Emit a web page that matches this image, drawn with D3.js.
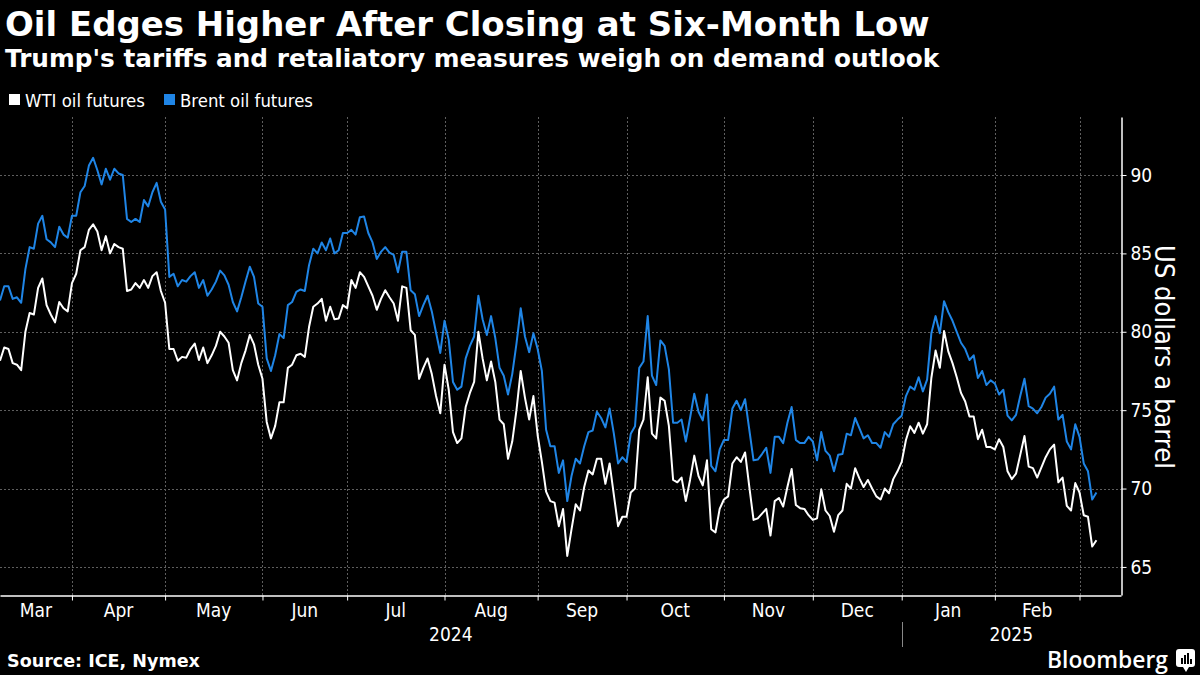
<!DOCTYPE html>
<html><head><meta charset="utf-8">
<script src="https://cdn.jsdelivr.net/npm/d3@7"></script>
<style>body{margin:0;background:#000;} svg{display:block;background:#000}</style>
</head><body>
<svg id="c" width="1200" height="675"></svg>
<script>
// ---- data (one value per weekday, Mar 2024 – Mar 2025) ----
const wti = [
78.15,79.0,78.9,78.0,77.9,77.55,80.0,81.2,81.1,82.8,83.4,81.7,81.1,80.6,81.9,81.5,81.3,83.1,83.7,85.2,85.4,86.5,86.85,86.4,85.2,86.1,85.0,85.6,85.4,85.3,82.6,82.7,83.1,82.8,83.3,82.8,83.55,83.8,82.6,81.85,78.9,78.9,78.15,
78.4,78.35,78.9,79.25,78.2,79.0,78.0,78.5,79.1,80.0,79.7,79.3,77.55,76.9,78.0,78.8,79.8,79.2,77.9,77.0,74.25,73.2,74.0,75.5,75.5,77.7,77.9,78.5,78.6,78.4,80.3,81.6,81.8,82.1,80.7,81.6,80.8,80.85,81.7,81.5,83.3,82.8,83.8,83.5,82.9,
82.3,81.4,82.1,82.65,82.2,81.8,80.7,82.9,82.8,80.1,79.8,77.0,77.7,78.3,77.3,75.9,74.8,77.9,76.3,73.6,72.9,73.2,75.2,76.1,76.8,80.0,78.3,76.9,78.1,76.8,74.4,74.1,71.9,73.0,75.0,77.5,75.8,74.4,75.9,73.4,71.7,
69.8,69.2,69.1,67.6,68.7,65.7,67.4,69.0,68.6,70.1,71.15,70.9,71.9,71.9,70.3,71.6,69.6,67.6,68.2,68.2,69.75,70.0,73.75,74.4,77.1,73.5,73.2,75.8,75.6,74.0,70.55,70.4,70.7,69.2,70.55,72.1,70.8,70.2,71.8,67.4,67.2,68.7,69.3,69.5,71.6,
72.0,71.7,72.3,70.1,68.0,68.1,68.4,68.7,67.0,69.2,69.4,68.85,70.1,71.25,68.95,68.75,68.7,68.3,68.0,68.1,69.95,68.6,68.25,67.25,68.3,68.6,70.3,70.0,71.3,70.65,70.1,70.55,70.0,69.5,69.3,70.0,69.7,70.6,71.1,71.7,73.1,73.97,73.55,74.2,
73.5,74.1,77.05,78.8,77.7,80.05,78.75,78.0,77.1,76.1,75.55,74.6,74.6,73.15,73.75,72.65,72.65,72.5,73.15,72.65,71.1,70.6,70.95,72.15,73.35,71.4,71.3,70.7,71.35,72.0,72.5,72.8,70.4,70.7,68.9,68.6,70.35,69.75,68.3,68.2,66.3,66.7
];
const brent = [
82.0,82.9,82.9,82.1,82.2,81.85,84.0,85.4,85.3,86.9,87.4,85.9,85.7,85.4,86.7,86.2,86.0,87.4,87.4,88.9,89.3,90.6,91.1,90.3,89.4,90.4,89.7,90.4,90.1,90.0,87.2,87.0,87.2,87.0,88.4,88.0,88.9,89.5,88.3,87.8,83.5,83.7,82.9,
83.3,83.2,83.55,83.8,82.8,83.3,82.3,82.7,83.2,83.9,83.6,83.0,81.9,81.3,82.2,83.2,84.15,83.5,81.8,81.6,78.3,77.5,78.5,79.85,79.6,81.7,81.9,82.55,82.7,82.6,84.25,85.3,85.0,85.7,85.2,85.95,85.0,85.2,86.3,86.3,86.5,86.2,87.3,87.35,86.3,
85.7,84.65,85.1,85.4,85.05,84.9,83.8,85.1,85.1,82.65,82.4,81.0,81.7,82.3,81.3,79.95,78.65,80.7,79.5,76.8,76.3,76.5,78.3,79.1,79.7,82.3,80.8,79.8,81.0,79.6,77.7,77.2,76.0,77.3,79.25,81.5,79.7,78.7,79.9,78.9,77.5,
73.75,72.7,72.7,71.0,71.8,69.2,70.8,71.9,71.6,72.7,73.6,73.7,74.9,74.5,73.9,75.1,73.5,71.6,72.0,71.7,73.5,73.97,77.7,78.1,81.0,77.2,76.6,79.45,79.1,77.6,74.2,74.2,74.4,73.0,74.5,76.05,74.9,74.35,76.0,71.45,71.1,72.5,73.1,73.1,75.1,
75.6,75.0,75.7,73.75,71.8,71.85,72.2,72.6,71.0,73.3,73.3,72.9,74.2,75.2,73.1,72.9,72.9,73.3,73.0,71.8,73.6,72.4,72.1,71.1,72.15,72.2,73.5,73.4,74.5,73.85,73.2,73.4,72.9,72.9,72.6,73.6,73.3,74.1,74.4,74.65,75.9,76.5,76.3,77.1,
76.2,76.95,79.9,81.0,79.9,81.95,81.25,80.7,80.0,79.3,78.9,78.2,78.5,77.05,77.5,76.6,76.9,76.7,76.0,76.3,74.65,74.35,74.7,75.9,77.0,75.25,75.1,74.8,75.2,75.8,76.05,76.5,74.4,74.7,73.0,72.5,74.1,73.3,71.6,71.1,69.3,69.75
];
const seriesNames = ["WTI oil futures", "Brent oil futures"];
const seriesColors = ["#ffffff", "#1f85e6"];
const monthLabels = ["Mar","Apr","May","Jun","Jul","Aug","Sep","Oct","Nov","Dec","Jan","Feb"];
const monthStarts = [0,17,39,62,82,105,127,148,171,192,213,235,255]; // weekday index of each month start
const yearLabels = ["2024","2025"];
const yearStarts = [0,213];
const yTicks = [65,70,75,80,85,90];

// ---- layout ----
const svg = d3.select("#c");
const plot = {left:0, right:1121, top:117, bottom:595};
const xEnd = 264.8; // index at right axis
const x = d3.scaleLinear().domain([0, xEnd]).range([plot.left, plot.right]);
const y = d3.scaleLinear().domain([63.21, 93.7]).range([plot.bottom, plot.top]);

const narrow = "'Liberation Sans Narrow','Arial Narrow','DejaVu Sans Condensed',sans-serif";
const bold = "'DejaVu Sans',sans-serif";

function fit(sel, w){
  const n = sel.node(); const L = n.getComputedTextLength();
  const fs = parseFloat(sel.attr("font-size"));
  sel.attr("font-size", fs * w / L);
  return sel;
}

// titles
fit(svg.append("text").attr("x",5).attr("y",36).attr("fill","#fff").attr("font-family",bold)
  .attr("font-weight","bold").attr("font-size",30).text("Oil Edges Higher After Closing at Six-Month Low"), 925);
fit(svg.append("text").attr("x",5).attr("y",67).attr("fill","#fff").attr("font-family",bold)
  .attr("font-weight","bold").attr("font-size",22).text("Trump's tariffs and retaliatory measures weigh on demand outlook"), 935);

// legend
const legX = [9, 164];
const legW = [120, 133];
seriesNames.forEach((n,i)=>{
  svg.append("rect").attr("x",legX[i]).attr("y",94).attr("width",11).attr("height",11).attr("fill",seriesColors[i]);
  fit(svg.append("text").attr("x",legX[i]+16).attr("y",107).attr("fill","#fff").attr("font-family",narrow)
    .attr("font-size",17).text(n), legW[i]);
});

// gridlines
const grid = svg.append("g").attr("stroke","#5e5e5e").attr("stroke-width",1).attr("stroke-dasharray","2,2");
yTicks.forEach(v=>grid.append("line").attr("x1",plot.left).attr("x2",plot.right).attr("y1",Math.round(y(v))+0.5).attr("y2",Math.round(y(v))+0.5));
monthStarts.slice(1).forEach(m=>grid.append("line").attr("x1",Math.round(x(m))+0.5).attr("x2",Math.round(x(m))+0.5).attr("y1",plot.top).attr("y2",plot.bottom));

// lines
const line = d3.line().x((d,i)=>x(i)).y(d=>y(d));
svg.append("path").datum(brent).attr("d",line).attr("fill","none")
  .attr("stroke",seriesColors[1]).attr("stroke-width",2).attr("stroke-linejoin","round");
svg.append("path").datum(wti).attr("d",line).attr("fill","none")
  .attr("stroke",seriesColors[0]).attr("stroke-width",2).attr("stroke-linejoin","round");

// y axis
const yAxis = svg.append("g").attr("transform",`translate(${plot.right+0.5},0)`)
  .call(d3.axisRight(y).tickValues(yTicks).tickSize(5).tickSizeOuter(0).tickPadding(4));
yAxis.select(".domain").attr("stroke","#fff").attr("stroke-width",1.5);
yAxis.selectAll(".tick line").attr("stroke","#fff");
yAxis.selectAll(".tick text").attr("fill","#fff").attr("font-family",narrow).attr("font-size",19);
fit(svg.append("text").attr("transform","translate(1155,357) rotate(90)").attr("text-anchor","middle")
  .attr("fill","#fff").attr("font-family",narrow).attr("font-size",22).text("US dollars a barrel"), 224);

// x axis
const xAxis = svg.append("g").attr("transform",`translate(0,${plot.bottom+0.5})`)
  .call(d3.axisBottom(x).tickValues(monthStarts.slice(1)).tickFormat("").tickSize(5).tickSizeOuter(0));
xAxis.select(".domain").attr("stroke","#fff").attr("stroke-width",1.5);
xAxis.selectAll(".tick line").attr("stroke","#fff");
monthLabels.forEach((m,i)=>{
  const cx = (x(monthStarts[i]) + x(monthStarts[i+1]))/2;
  svg.append("text").attr("x",cx).attr("y",617).attr("text-anchor","middle").attr("fill","#fff")
    .attr("font-family",narrow).attr("font-size",19).text(m);
});
yearLabels.forEach((t,i)=>{
  const a = x(yearStarts[i]), b = i+1<yearStarts.length ? x(yearStarts[i+1]) : plot.right;
  svg.append("text").attr("x",(a+b)/2).attr("y",641).attr("text-anchor","middle").attr("fill","#fff")
    .attr("font-family",narrow).attr("font-size",19).text(t);
  if(i>0) svg.append("line").attr("x1",Math.round(a)+0.5).attr("x2",Math.round(a)+0.5).attr("y1",622).attr("y2",647)
    .attr("stroke","#888").attr("stroke-width",1);
});

// footer
fit(svg.append("text").attr("x",7).attr("y",667).attr("fill","#fff").attr("font-family",bold).attr("font-weight","bold")
  .attr("font-size",16).text("Source: ICE, Nymex"), 193);
fit(svg.append("text").attr("x",1047).attr("y",668).attr("fill","#fff").attr("font-family","'Open Sans','DejaVu Sans',sans-serif")
  .attr("font-weight","600").attr("font-size",21).text("Bloomberg"), 121);
const logo = svg.append("g").attr("transform","translate(1176,649)");
logo.append("rect").attr("width",19).attr("height",18).attr("rx",3).attr("fill","#fff");
logo.append("path").attr("d","M7,18 L10,23 L13,18 Z").attr("fill","#fff");
[[5,9,2,6],[8,6,2,9],[11,4,2,11],[14,10,2,5]].forEach(b=>logo.append("rect").attr("x",b[0]).attr("y",b[1]).attr("width",b[2]).attr("height",b[3]).attr("fill","#000"));
</script>
</body></html>
